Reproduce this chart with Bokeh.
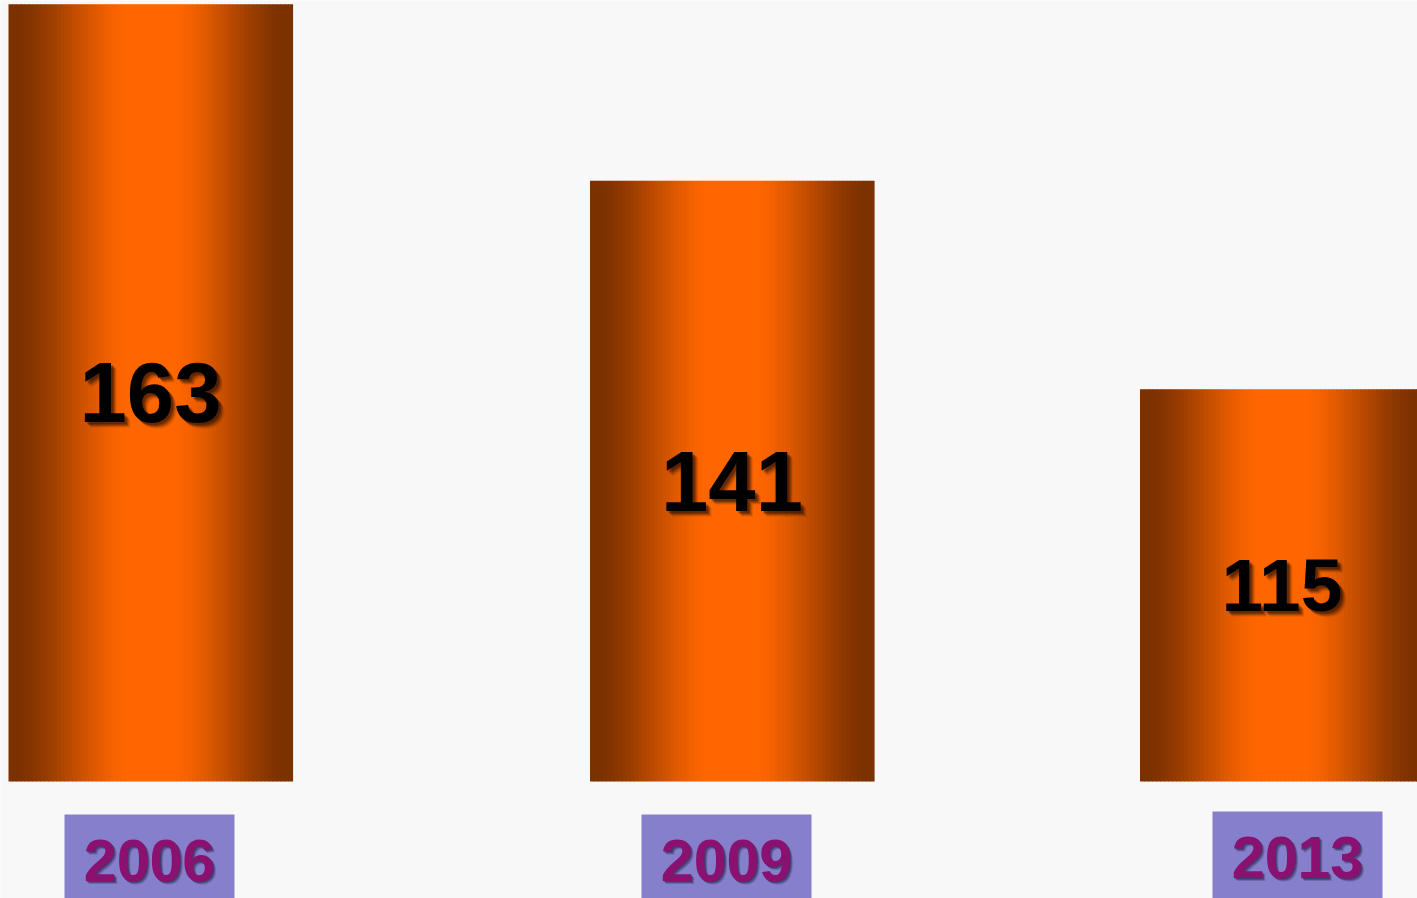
from bokeh.plotting import figure
from bokeh.models import ColumnDataSource, Range1d
from bokeh.embed import file_html
from bokeh.resources import INLINE
from bokeh.core.properties import value

# ---- data ----
years = ["2006", "2009", "2013"]
counts = [163, 141, 115]

# ---- layout (not data) ----
bar_centers = [150, 731.5, 1281.5]     # x positions in frame units
bar_width = 284
box_centers = [149, 726, 1297]
box_width = 170
box_tops = [61.98, 61.98, 62.36]
year_text_y = [56.3, 56.3, 56.65]
base_value = 66.1
value_font_sizes = ["85px", "85px", "75px"]

W, H = 1417, 898
p = figure(width=W, height=H, output_backend="svg", toolbar_location=None,
           x_range=Range1d(0, W), y_range=Range1d(51.51, 163.47),
           min_border=0, background_fill_color="#F8F8F8",
           border_fill_color="#F8F8F8")
p.axis.visible = False
p.grid.visible = False
p.outline_line_color = None

dark = (0x7C, 0x31, 0x00)
bright = (0xFF, 0x66, 0x00)

def shade(t):
    # t in [0,1] distance from centre
    if t <= 0.18:
        k = 0.0
    elif t >= 0.92:
        k = 1.0
    else:
        k = (t - 0.18) / (0.92 - 0.18)
        k = k * k * (3 - 2 * k) * 0.5 + k * 0.5
    c = [round(bright[i] + (dark[i] - bright[i]) * k) for i in range(3)]
    return "#%02x%02x%02x" % tuple(c)

N = 71
L, R, B, T, C = [], [], [], [], []
for cx, v in zip(bar_centers, counts):
    left0 = cx - bar_width / 2
    step = bar_width / N
    for j in range(N):
        l = left0 + j * step
        mid = l + step / 2
        t = abs(mid - cx) / (bar_width / 2)
        L.append(l)
        R.append(l + step + 0.6)
        B.append(base_value)
        T.append(v)
        C.append(shade(t))
stripes = ColumnDataSource(dict(left=L, right=R, bottom=B, top=T, color=C))
p.quad(left="left", right="right", bottom="bottom", top="top",
       fill_color="color", line_color=None, source=stripes)

# value labels with soft shadow
mid_y = [(base_value + v) / 2 for v in counts]
lab = ColumnDataSource(dict(x=bar_centers, y=mid_y, text=[str(v) for v in counts],
                            size=value_font_sizes))
for off, a in [(2, 0.22), (3, 0.22), (4, 0.18), (5, 0.12), (6, 0.06)]:
    p.text(x="x", y="y", text="text", source=lab, text_font=value("Liberation Sans"),
           text_font_style="bold", text_font_size="size", text_align="center",
           text_baseline="middle", text_color="#000000", text_alpha=a,
           x_offset=off, y_offset=off)
p.text(x="x", y="y", text="text", source=lab, text_font=value("Liberation Sans"),
       text_font_style="bold", text_font_size="size", text_align="center",
       text_baseline="middle", text_color="#000000")

# year boxes
bx = ColumnDataSource(dict(left=[c - box_width / 2 for c in box_centers],
                           right=[c + box_width / 2 for c in box_centers],
                           top=box_tops, bottom=[40, 40, 40]))
p.quad(left="left", right="right", top="top", bottom="bottom", source=bx,
       fill_color="#8680CC", line_color=None)

yl = ColumnDataSource(dict(x=box_centers, y=year_text_y, text=years))
for off, a in [(1, 0.3), (2, 0.3), (3, 0.2)]:
    p.text(x="x", y="y", text="text", source=yl, text_font=value("Liberation Sans"),
           text_font_style="bold", text_font_size="59px", text_align="center",
           text_baseline="middle", text_color="#1a0a30", text_alpha=a,
           x_offset=off, y_offset=off)
p.text(x="x", y="y", text="text", source=yl, text_font=value("Liberation Sans"),
       text_font_style="bold", text_font_size="59px", text_align="center",
       text_baseline="middle", text_color="#8B1171")

open("out.html", "w").write(file_html(p, INLINE))
